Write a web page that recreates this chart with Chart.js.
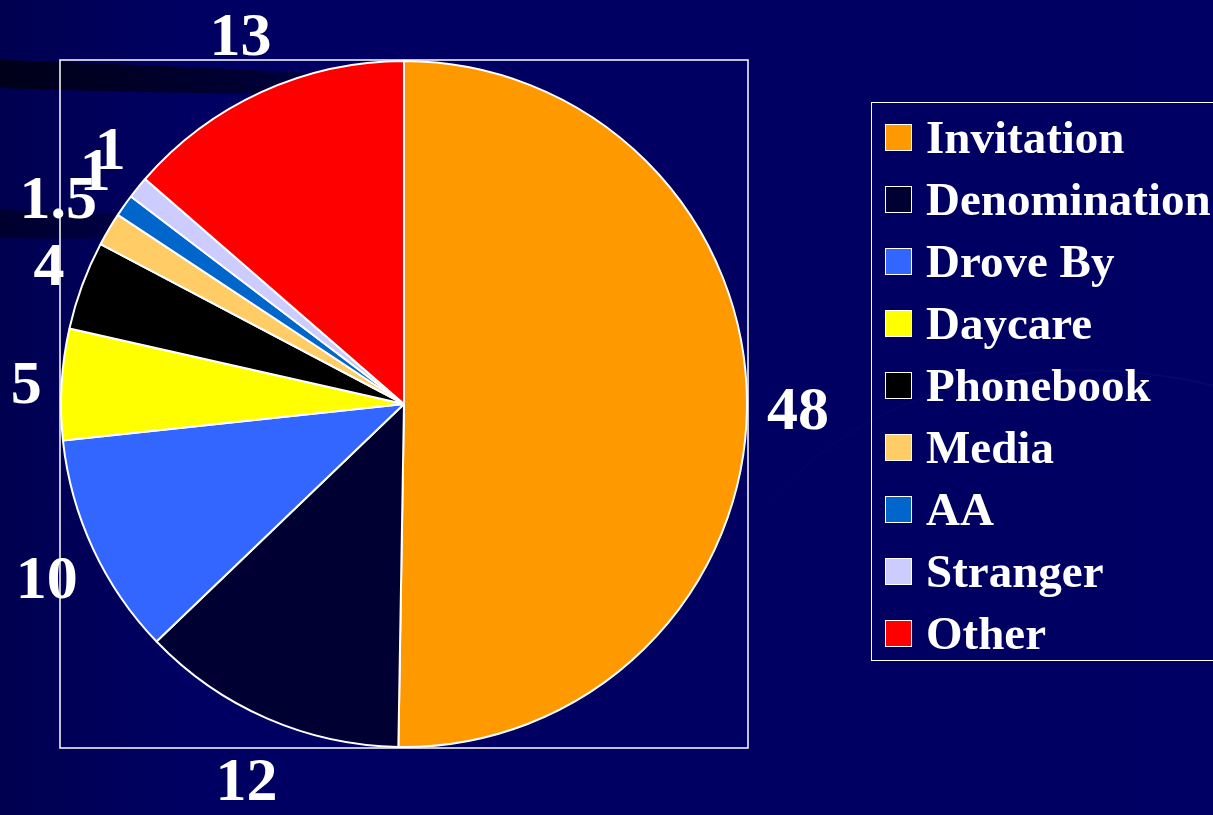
<!DOCTYPE html>
<html>
<head>
<meta charset="utf-8">
<title>Source of first visit</title>
<script src="https://cdn.jsdelivr.net/npm/chart.js@4.4.0/dist/chart.umd.min.js"></script>
<style>
  html, body { margin: 0; padding: 0; }
  body {
    width: 1213px; height: 815px; overflow: hidden; position: relative;
    background: linear-gradient(90deg, #000050 0px, #000062 180px, #000064 100%);
    font-family: "Liberation Serif", "Times New Roman", serif;
  }
  /* faint swooshes behind the chart */
  .band { position: absolute; }
  #band1 {
    left: 0px; top: 60px; width: 480px; height: 28px; transform: rotate(1.8deg); transform-origin: 0 0;
    border-radius: 0 100% 100% 0 / 0 50% 50% 0;
    background: linear-gradient(90deg, rgba(0,0,20,0.9) 0%, rgba(0,0,30,0.7) 50%, rgba(0,0,60,0) 100%);
  }
  #band2 {
    left: 0px; top: 210px; width: 230px; height: 28px; transform: rotate(1deg); transform-origin: 0 0;
    border-radius: 0 100% 100% 0 / 0 50% 50% 0;
    background: linear-gradient(90deg, rgba(0,0,30,0.7) 0%, rgba(0,0,40,0.4) 60%, rgba(0,0,60,0) 100%);
  }
  #band3 {
    left: 700px; top: 380px; width: 900px; height: 700px; border-radius: 50%;
    border-top: 2px solid rgba(40,50,140,0.15); transform: rotate(18deg);
  }
  #chartBox { position: absolute; left: 0; top: 0; width: 1213px; height: 815px; }
  #legend {
    position: absolute; left: 871px; top: 102px; width: 360px; height: 559px;
    box-sizing: border-box; border: 1.5px solid #fff; padding-top: 3px;
  }
  .item { display: flex; align-items: center; height: 62px; }
  .swatch {
    width: 25px; height: 25px; border: 1px solid #fff; margin-left: 13px; margin-right: 14px;
    flex: none;
  }
  .name { color: #fff; font-weight: bold; font-size: 47px; line-height: 62px; white-space: nowrap; }
</style>
</head>
<body>
<div class="band" id="band1"></div>
<div class="band" id="band2"></div>
<div class="band" id="band3"></div>
<div id="chartBox"><canvas id="pieChart"></canvas></div>
<div id="legend"></div>
<script>
// categories and counts
var categories = ["Invitation", "Denomination", "Drove By", "Daycare", "Phonebook", "Media", "AA", "Stranger", "Other"];
var counts = [48, 12, 10, 5, 4, 1.5, 1, 1, 13];
var sliceColors = ["#FF9900", "#000033", "#3366FF", "#FFFF00", "#000000", "#FFCC66", "#0066CC", "#CCCCFF", "#FF0000"];

// white frame round the plot area
var frame = {
  id: "frame",
  beforeDatasetsDraw: function (chart) {
    var a = chart.chartArea, ctx = chart.ctx;
    ctx.save();
    ctx.strokeStyle = "#ffffff";
    ctx.lineWidth = 1.5;
    ctx.strokeRect(a.left, a.top, a.right - a.left, a.bottom - a.top);
    ctx.restore();
  }
};

// value labels just outside each slice
var outsideLabels = {
  id: "outsideLabels",
  afterDatasetsDraw: function (chart) {
    var ctx = chart.ctx;
    var meta = chart.getDatasetMeta(0);
    var fontSize = 62, gap = 20;
    ctx.save();
    ctx.font = "bold " + fontSize + "px 'Liberation Serif', 'Times New Roman', serif";
    ctx.fillStyle = "#ffffff";
    ctx.textAlign = "center";
    ctx.textBaseline = "middle";
    meta.data.forEach(function (arc, i) {
      var p = arc.getProps(["x", "y", "startAngle", "endAngle", "outerRadius"], true);
      var mid = (p.startAngle + p.endAngle) / 2;
      var ux = Math.cos(mid), uy = Math.sin(mid);
      var text = String(counts[i]);
      var w = ctx.measureText(text).width;
      var h = fontSize * 1.45;
      var x = p.x + ux * (p.outerRadius + gap) + ux * w / 2;
      var y = p.y + uy * (p.outerRadius + gap) + uy * h / 2 + 6;
      ctx.fillText(text, x, y);
    });
    ctx.restore();
  }
};

var pieChart = new Chart(document.getElementById("pieChart"), {
  type: "pie",
  data: {
    labels: categories,
    datasets: [{
      data: counts,
      backgroundColor: sliceColors,
      borderColor: "#ffffff",
      borderWidth: 2
    }]
  },
  options: {
    responsive: true,
    maintainAspectRatio: false,
    animation: false,
    layout: { padding: { left: 60, top: 60, right: 465, bottom: 67 } },
    plugins: {
      legend: { display: false },
      tooltip: { enabled: false }
    }
  },
  plugins: [frame, outsideLabels]
});

// legend box on the right
var legendBox = document.getElementById("legend");
categories.forEach(function (name, i) {
  var row = document.createElement("div");
  row.className = "item";
  var sw = document.createElement("span");
  sw.className = "swatch";
  sw.style.background = sliceColors[i];
  var label = document.createElement("span");
  label.className = "name";
  label.textContent = name;
  row.appendChild(sw);
  row.appendChild(label);
  legendBox.appendChild(row);
});
</script>
</body>
</html>
